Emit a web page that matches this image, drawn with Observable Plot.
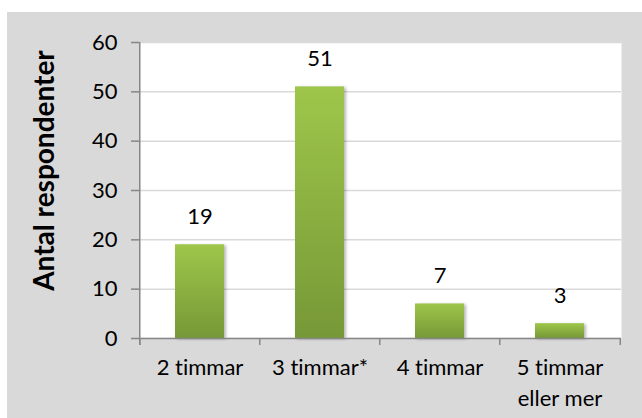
<!DOCTYPE html>
<html>
<head>
<meta charset="utf-8">
<script src="https://cdn.jsdelivr.net/npm/d3@7"></script>
<script src="https://cdn.jsdelivr.net/npm/@observablehq/plot@0.6"></script>
<style>
  html, body { margin: 0; padding: 0; background: #ffffff; }
  #wrap { position: relative; width: 642px; height: 418px; overflow: hidden; }
  #panel { position: absolute; left: 7px; top: 12px; right: 0; bottom: 0; background: #d9d9d9; }
  #chart { position: absolute; left: 0; top: 0; }
  #chart svg { display: block; font-variant-ligatures: none; }
  g[fill="url(#barFill)"] { filter: drop-shadow(2px 1px 1.5px rgba(0,0,0,0.28)); }
</style>
</head>
<body>
<div id="wrap">
  <div id="panel"></div>
  <div id="chart"></div>
</div>
<script>
// Respondents per session length
const categories = ["2 timmar", "3 timmar*", "4 timmar", "5 timmar\neller mer"];
const values = [19, 51, 7, 3];
const yTicks = [0, 10, 20, 30, 40, 50, 60];
const yTitle = "Antal respondenter";

const data = categories.map((c, i) => ({category: c, value: values[i]}));

const width = 642, height = 418;
const marginLeft = 139, marginRight = 21, marginTop = 42, marginBottom = 80;
const step = (width - marginLeft - marginRight) / categories.length;
const axisColor = "#868686";

// vertical green gradient used by the bars
const gradientDefs = () => {
  const defs = d3.create("svg:defs");
  const g = defs.append("linearGradient")
    .attr("id", "barFill")
    .attr("x1", 0).attr("y1", 0).attr("x2", 0).attr("y2", 1);
  g.append("stop").attr("offset", "0%").attr("stop-color", "#9ec64a");
  g.append("stop").attr("offset", "100%").attr("stop-color", "#779837");
  return defs.node();
};

const chart = Plot.plot({
  width, height, marginLeft, marginRight, marginTop, marginBottom,
  style: {fontFamily: "Lato, 'Open Sans', sans-serif", fontSize: "22px", color: "#000", background: "transparent", overflow: "visible"},
  x: {domain: categories, paddingInner: 0.59, paddingOuter: 0.295, label: null},
  y: {domain: [0, 60], label: null},
  marks: [
    Plot.frame({fill: "white", stroke: null}),
    Plot.gridY(yTicks, {stroke: "#d9d9d9", strokeOpacity: 1, strokeWidth: 1.5}),
    gradientDefs,
    Plot.barY(data, {x: "category", y: "value", fill: "url(#barFill)"}),
    Plot.text(data, {x: "category", y: "value", text: d => String(d.value), dy: -28, fontSize: 22, fill: "#000"}),
    // axes
    Plot.ruleY([0], {stroke: axisColor, strokeWidth: 1.5}),
    Plot.ruleX([categories[0]], {y1: 60, y2: -1.4, dx: -step / 2, stroke: axisColor, strokeWidth: 1.5}),
    Plot.ruleX(categories, {y1: 0, y2: -1.4, dx: -step / 2, stroke: axisColor, strokeWidth: 1.5}),
    Plot.ruleX([categories[categories.length - 1]], {y1: 0, y2: -1.4, dx: step / 2, stroke: axisColor, strokeWidth: 1.5}),
    Plot.axisY(yTicks, {tickSize: 8, tickPadding: 14, stroke: axisColor, strokeWidth: 1.5, strokeOpacity: 1, fill: "#000", label: null, fontSize: 22}),
    Plot.axisX({tickSize: 0, tickPadding: 15, lineHeight: 1.4, fill: "#000", label: null, fontSize: 22}),
    Plot.text([yTitle], {frameAnchor: "left", textAnchor: "middle", rotate: -90, dx: -94, dy: -20, fontWeight: "bold", fontSize: 28, fill: "#000"})
  ]
});

document.getElementById("chart").appendChild(chart);
</script>
</body>
</html>
